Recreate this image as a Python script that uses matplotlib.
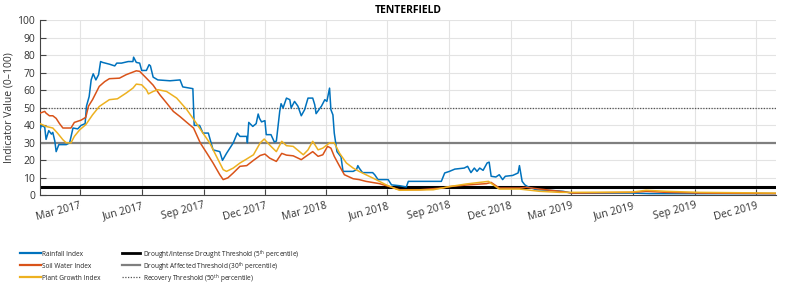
import matplotlib
matplotlib.use("Agg")
import matplotlib.pyplot as plt
import matplotlib.dates as mdates
from matplotlib.lines import Line2D
import numpy as np

title = "TENTERFIELD"

rain_dates = ["2017-01-01","2017-01-03","2017-01-08","2017-01-10","2017-01-14","2017-01-18","2017-01-20","2017-01-23",
    "2017-01-25","2017-01-29","2017-02-04","2017-02-09","2017-02-14","2017-02-19","2017-02-26","2017-03-03","2017-03-09",
    "2017-03-11","2017-03-15","2017-03-18","2017-03-21","2017-03-25","2017-03-29","2017-04-01","2017-04-04","2017-04-14",
    "2017-04-22","2017-04-25","2017-05-02","2017-05-12","2017-05-19","2017-05-20","2017-05-24","2017-05-29","2017-06-01",
    "2017-06-08","2017-06-12","2017-06-14","2017-06-18","2017-06-25","2017-07-13","2017-07-28","2017-08-01","2017-08-16",
    "2017-08-18","2017-08-26","2017-08-31","2017-09-08","2017-09-15","2017-09-25","2017-09-29","2017-10-05","2017-10-15",
    "2017-10-21","2017-10-25","2017-11-04","2017-11-05","2017-11-07","2017-11-13","2017-11-18","2017-11-21","2017-11-23",
    "2017-11-26","2017-12-01","2017-12-03","2017-12-10","2017-12-15","2017-12-18","2017-12-23","2017-12-25","2017-12-28",
    "2018-01-02","2018-01-07","2018-01-09","2018-01-14","2018-01-19","2018-01-24","2018-01-29","2018-02-03","2018-02-10",
    "2018-02-13","2018-02-15","2018-02-23","2018-02-28","2018-03-03","2018-03-07","2018-03-09","2018-03-12","2018-03-14",
    "2018-03-18","2018-03-22","2018-03-24","2018-03-27","2018-04-01","2018-04-11","2018-04-16","2018-04-18","2018-04-20",
    "2018-04-25","2018-05-10","2018-05-13","2018-05-18","2018-06-02","2018-06-07","2018-06-19","2018-06-29","2018-07-02",
    "2018-07-14","2018-08-20","2018-08-25","2018-09-01","2018-09-09","2018-09-23","2018-09-28","2018-10-03","2018-10-08",
    "2018-10-12","2018-10-16","2018-10-21","2018-10-27","2018-10-30","2018-11-02","2018-11-09","2018-11-14","2018-11-19",
    "2018-11-23","2018-12-04","2018-12-12","2018-12-14","2018-12-18","2018-12-22","2018-12-27","2019-01-08","2019-01-28",
    "2019-02-17","2019-03-01","2019-05-31","2019-06-25","2019-12-29"]
rain_vals = [37.5,40,39,32,37,35,36,31,25,29,29,29,30,38.5,38,40,41,51,56.5,66,69.5,66,69,76.5,76,75,74,75.6,75.6,
    76.5,76.5,79,76,75.6,71.4,71.4,74.7,74,67.6,66,65.5,66,62,61,40,40,35.6,35.6,26,25,20,24,30,35.6,33.7,33.7,30,
    41.7,39.4,41,46.5,44,42,42.7,34.7,34.7,30.5,31,48,52.4,50,55.6,54.7,50,53.7,51,45.5,49,55.6,55.6,51.8,46.7,51,
    54.7,53.7,61.3,49,46,35.6,25,23,22,13.7,13.7,13.7,14.7,17,15.6,13,13,11.8,9,9,6,5.5,4.8,8,8,8,12.8,13.7,15,15.6,
    16.6,13,15.6,13.7,15.6,14.3,18.5,19,10.9,10.5,11.8,9,10.9,11.4,12.8,17,8,6,4.8,3.2,2.9,2.3,1.3,1.3,1,1]

soil_dates = ["2017-01-01","2017-01-08","2017-01-10","2017-01-15","2017-01-20","2017-01-25","2017-01-30","2017-02-04",
    "2017-02-16","2017-02-21","2017-03-03","2017-03-10","2017-03-14","2017-03-20","2017-03-25","2017-03-30","2017-04-07",
    "2017-04-14","2017-04-29","2017-05-09","2017-05-24","2017-05-29","2017-06-08","2017-06-18","2017-06-28","2017-07-08",
    "2017-07-18","2017-07-28","2017-08-07","2017-08-17","2017-08-27","2017-09-06","2017-09-15","2017-09-25","2017-09-30",
    "2017-10-07","2017-10-15","2017-10-25","2017-11-04","2017-11-14","2017-11-24","2017-12-01","2017-12-08","2017-12-18",
    "2017-12-26","2018-01-02","2018-01-12","2018-01-24","2018-02-01","2018-02-10","2018-02-18","2018-02-25","2018-03-04",
    "2018-03-09","2018-03-14","2018-03-22","2018-03-29","2018-04-11","2018-04-20","2018-04-30","2018-05-20","2018-06-04",
    "2018-06-19","2018-07-19","2018-08-22","2018-09-01","2018-09-26","2018-10-26","2018-11-02","2018-11-14","2018-12-14",
    "2018-12-24","2019-01-13","2019-02-12","2019-03-03","2019-05-31","2019-06-20","2019-07-20","2019-09-08","2019-12-29"]
soil_vals = [47,48,47,45.5,45.5,44,41,38.5,38.5,41.7,43,44.6,51,54.7,58.5,62.3,65,66.7,67,69,71.2,70.9,67,63,57.5,
    52.8,48,45,41.7,38.5,30,24,18.5,11.8,9,10,12.8,16.6,17,20,22.8,23.6,21.3,19.4,24,23,22.6,20.4,22.6,25,22.3,23.2,
    28,27,22.3,16.6,11.8,9.5,9,8,6.7,5,3.2,3.2,4.2,5,5.9,6.7,7.4,4.2,4.2,4.6,3.6,2.3,1.3,1.7,2.3,1.7,1.3,1]

plant_dates = ["2017-01-01","2017-01-10","2017-01-20","2017-01-27","2017-02-04","2017-02-09","2017-02-16","2017-02-21",
    "2017-03-01","2017-03-10","2017-03-20","2017-03-30","2017-04-14","2017-04-26","2017-05-09","2017-05-19","2017-05-24",
    "2017-06-01","2017-06-08","2017-06-11","2017-06-18","2017-06-25","2017-07-08","2017-07-23","2017-08-07","2017-08-18",
    "2017-08-31","2017-09-10","2017-09-20","2017-09-30","2017-10-05","2017-10-15","2017-10-25","2017-11-04","2017-11-14",
    "2017-11-24","2017-11-30","2017-12-03","2017-12-10","2017-12-18","2017-12-26","2018-01-02","2018-01-12","2018-01-27",
    "2018-02-03","2018-02-10","2018-02-18","2018-02-25","2018-03-07","2018-03-14","2018-03-22","2018-04-01","2018-04-11",
    "2018-04-20","2018-04-30","2018-05-15","2018-05-30","2018-06-14","2018-06-19","2018-08-08","2018-09-01","2018-09-26",
    "2018-10-29","2018-11-05","2018-11-14","2018-12-14","2019-01-13","2019-02-12","2019-03-03","2019-05-31","2019-06-20",
    "2019-07-20","2019-09-08","2019-12-29"]
plant_vals = [41,39.4,38.5,35.6,31.8,30,30,33.7,37.5,40.4,46,50.8,54.7,55.2,58.5,61.3,63.6,63.2,60.4,58,59.4,60.4,59.4,
    55.6,49,43,35.6,30,22.3,14.7,13.7,15.6,18.5,20.8,23.2,30,32.2,30.9,28,25,30.9,28.4,28,23.2,26,30.9,26,27,30,30,24,
    18.5,15.6,13.7,11.8,9,6,3.6,2.9,3.2,5,6.5,8,6,3.6,3.6,2.3,1.7,1.7,1.9,2.9,2.3,1.7,1.3]

thresholds = [5, 30, 50]
series_labels = ["Rainfall Index", "Soil Water Index", "Plant Growth Index"]
threshold_labels = ["Drought/Intense Drought Threshold (5$^{\\rm th}$ percentile)",
                    "Drought Affected Threshold (30$^{\\rm th}$ percentile)",
                    "Recovery Threshold (50$^{\\rm th}$ percentile)"]

plt.rcParams['font.family'] = ['Open Sans', 'DejaVu Sans']
plt.rcParams['mathtext.fontset'] = 'custom'
plt.rcParams['mathtext.rm'] = 'Open Sans'
W, H = 800, 292
fig = plt.figure(figsize=(8, 2.92), dpi=100)
ax = fig.add_axes([0.05, 0.331, 0.92, 0.599])

colors = ["#0072BD", "#D95319", "#EDB120"]
for d, v, c, lab in zip([rain_dates, soil_dates, plant_dates], [rain_vals, soil_vals, plant_vals], colors, series_labels):
    ax.plot(np.array(d, dtype="datetime64[D]"), v, color=c, lw=1.1, label=lab, zorder=3)

th_styles = [dict(color="black", lw=2.2, ls="-"),
             dict(color="#7f7f7f", lw=1.6, ls="-"),
             dict(color="#555555", lw=0.9, ls=(0, (1, 1.2)))]
for t, st in zip(thresholds, th_styles):
    ax.axhline(t, zorder=2.5, **st)

ax.set_xlim(np.datetime64("2017-01-01"), np.datetime64("2019-12-30"))
ax.set_ylim(0, 100)
ax.set_yticks(range(0, 101, 10))
ax.xaxis.set_major_locator(mdates.MonthLocator(bymonth=[3, 6, 9, 12]))
ax.xaxis.set_major_formatter(mdates.DateFormatter("%b %Y"))
ax.grid(True, color="#e3e3e3", lw=0.8)
ax.set_axisbelow(True)
for s in ["top", "right"]:
    ax.spines[s].set_visible(False)
for s in ["left", "bottom"]:
    ax.spines[s].set_color("#444444")
    ax.spines[s].set_linewidth(0.8)
ax.tick_params(direction="in", length=4, width=0.8, color="#444444", labelcolor="#333333", labelsize=7.5)
plt.setp(ax.get_xticklabels(), rotation=15, ha="right", rotation_mode="anchor")
ax.set_ylabel("Indicator Value (0\u2013100)", fontsize=7.5, color="#333333", labelpad=2)
ax.yaxis.set_label_coords(-0.034, 0.5)
ax.set_title(title, fontsize=7.5, fontweight="bold", pad=5)

# legend drawn manually in figure pixel coordinates
rows_y = [253, 265, 277]
col_specs = [(20, 41, 42, series_labels, [dict(color=c, lw=1.6, ls="-") for c in colors]),
             (122, 140, 143, threshold_labels, th_styles)]
for x0, x1, xt, labels, styles in col_specs:
    for yy, lab, st in zip(rows_y, labels, styles):
        st2 = dict(st)
        if st2["lw"] < 1.2:
            st2["lw"] = 0.9
        else:
            st2["lw"] = min(st2["lw"], 2.0)
        fig.add_artist(Line2D([x0 / W, x1 / W], [1 - yy / H, 1 - yy / H], transform=fig.transFigure, **st2))
        fig.text(xt / W, 1 - yy / H, lab, fontsize=4.7, color="#222222", va="center_baseline", ha="left")

fig.savefig("out.png", dpi=100)
